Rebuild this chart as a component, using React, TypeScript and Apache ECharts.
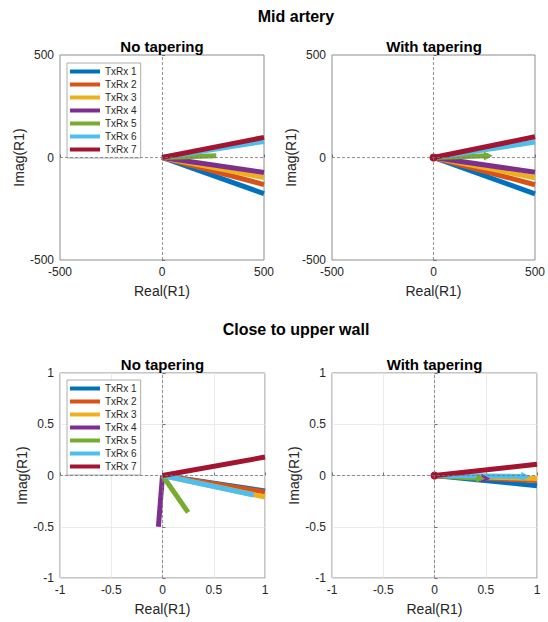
import React, { useEffect, useRef } from "react";
import * as echarts from "echarts";

// ---- data ----
const names = ["TxRx 1", "TxRx 2", "TxRx 3", "TxRx 4", "TxRx 5", "TxRx 6", "TxRx 7"];
const colors = ["#0072BD", "#D95319", "#EDB120", "#7E2F8E", "#77AC30", "#4DBEEE", "#A2142F"];

// vector end points (real, imag), each vector starts at origin
const midNoTaperRe = [500, 500, 500, 500, 266, 500, 500];
const midNoTaperIm = [-176, -132, -98, -73, 8, 78, 98];
const midTaperRe = [500, 500, 500, 500, 270, 500, 500];
const midTaperIm = [-177, -133, -99, -72, 8, 75, 101];
const wallNoTaperRe = [1, 1, 1, -0.04, 0.25, 0.89, 1];
const wallNoTaperIm = [-0.15, -0.16, -0.21, -0.5, -0.36, -0.19, 0.18];
const wallTaperRe = [1, 1, 1, 0.5, 0.45, 0.89, 1];
const wallTaperIm = [-0.1, -0.05, -0.03, -0.03, -0.03, -0.01, 0.11];

const midTicks = { min: -500, max: 500, interval: 500 };
const wallTicks = { min: -1, max: 1, interval: 0.5 };

const panelTitles = ["No tapering", "With tapering", "No tapering", "With tapering"];
const figTitles = ["Mid artery", "Close to upper wall"];

export default function App() {
  const ref = useRef<HTMLDivElement>(null);
  useEffect(() => {
    if (!ref.current) return;
    const chart = echarts.init(ref.current, undefined, { renderer: "svg" });
    const font = "Liberation Sans, Arial, Helvetica, sans-serif";
    const frame = "#8c8c8c";
    const txt = "#262626";

    const grids = [
      { left: 60, top: 55, width: 204, height: 205 },
      { left: 332, top: 55, width: 204, height: 205 },
      { left: 60, top: 373, width: 205, height: 205 },
      { left: 332, top: 373, width: 205, height: 205 },
    ];
    const panels = [
      { re: midNoTaperRe, im: midNoTaperIm, ticks: midTicks, arrows: false, grid: false },
      { re: midTaperRe, im: midTaperIm, ticks: midTicks, arrows: true, grid: false },
      { re: wallNoTaperRe, im: wallNoTaperIm, ticks: wallTicks, arrows: false, grid: true },
      { re: wallTaperRe, im: wallTaperIm, ticks: wallTicks, arrows: true, grid: true },
    ];

    const axisCommon = (p: any) => ({
      type: "value",
      min: p.ticks.min,
      max: p.ticks.max,
      interval: p.ticks.interval,
      axisLine: { show: false },
      axisTick: { show: true, inside: true, length: 3, lineStyle: { color: "#555", width: 0.8 } },
      splitLine: { show: p.grid, lineStyle: { color: "#e6e6e6", width: 0.8 } },
      axisLabel: { color: txt, fontSize: 12, fontFamily: font },
      nameTextStyle: { color: txt, fontSize: 14, fontFamily: font },
    });

    const xAxis = panels.map((p, i) => ({
      ...axisCommon(p),
      gridIndex: i,
      name: "Real(R1)",
      nameLocation: "middle",
      nameGap: 24,
      axisLabel: { color: txt, fontSize: 12, fontFamily: font, margin: 6 },
    }));
    const yAxis = panels.map((p, i) => ({
      ...axisCommon(p),
      gridIndex: i,
      name: "Imag(R1)",
      nameLocation: "middle",
      nameGap: p.grid ? 30 : 34,
      axisLabel: { color: txt, fontSize: 12, fontFamily: font, margin: 6 },
    }));

    const series: any[] = [];
    panels.forEach((p, pi) => {
      series.push({
        type: "line",
        name: "zero" + pi,
        xAxisIndex: pi,
        yAxisIndex: pi,
        data: [],
        z: 1,
        silent: true,
        markLine: {
          silent: true,
          symbol: "none",
          label: { show: false },
          lineStyle: { type: [3, 2], color: "#777", width: 0.8 },
          data: [{ xAxis: 0 }, { yAxis: 0 }],
        },
      });
      names.forEach((n, i) => {
        const x = p.re[i];
        const y = p.im[i];
        const inside = x < p.ticks.max;
        const ang = (Math.atan2(y, x) * 180) / Math.PI;
        const start: any = { value: [0, 0], symbol: "none" };
        const end: any = { value: [x, y], symbol: "none" };
        if (p.arrows) {
          if (i === 6) {
            start.symbol = "circle";
            start.symbolSize = 8;
          }
          if (inside) {
            end.symbol = "triangle";
            end.symbolSize = [9, 9];
            end.symbolRotate = -90 + ang;
          }
        }
        series.push({
          type: "line",
          name: n,
          xAxisIndex: pi,
          yAxisIndex: pi,
          data: [start, end],
          showSymbol: true,
          symbol: "none",
          z: 2,
          lineStyle: { width: 5, color: colors[i], cap: "butt" },
          itemStyle: { color: colors[i], borderWidth: 0 },
          emphasis: { disabled: true },
        });
      });
    });

    const legendCommon = {
      data: names,
      orient: "vertical",
      left: 67,
      icon: "rect",
      itemWidth: 30,
      itemHeight: 4,
      itemGap: 2,
      selectedMode: false,
      padding: [3, 4, 3, 3],
      borderColor: "#999",
      borderWidth: 0.8,
      backgroundColor: "#fff",
      textStyle: { fontSize: 10, lineHeight: 11, color: txt, fontFamily: font },
    };

    const graphic: any[] = [
      { type: "text", x: 296, y: 16, style: { text: figTitles[0], font: `bold 16px ${font}`, fill: "#000", align: "center", verticalAlign: "middle" } },
      { type: "text", x: 296, y: 329, style: { text: figTitles[1], font: `bold 16px ${font}`, fill: "#000", align: "center", verticalAlign: "middle" } },
    ];
    grids.forEach((g, i) => {
      graphic.push({
        type: "text",
        x: g.left + g.width / 2,
        y: g.top - 9,
        style: { text: panelTitles[i], font: `bold 15px ${font}`, fill: "#000", align: "center", verticalAlign: "middle" },
      });
    });

    chart.setOption({
      animation: false,
      backgroundColor: "#fff",
      grid: grids.map((g) => ({ ...g, show: true, borderColor: frame, borderWidth: 1, backgroundColor: "transparent" })),
      xAxis,
      yAxis,
      legend: [
        { ...legendCommon, top: 63 },
        { ...legendCommon, top: 380 },
      ],
      graphic,
      series,
    });
    return () => chart.dispose();
  }, []);
  return <div ref={ref} style={{ position: "fixed", left: 0, top: 0, width: 548, height: 622 }} />;
}
